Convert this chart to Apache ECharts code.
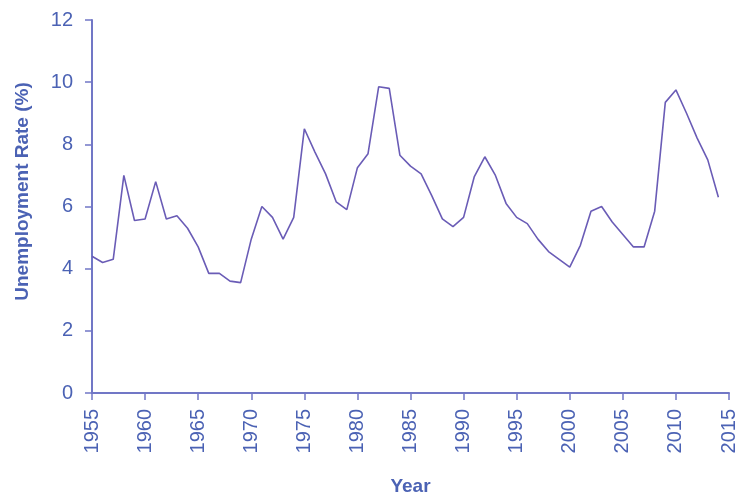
<!DOCTYPE html>
<html>
<head>
<meta charset="utf-8">
<script src="https://cdn.jsdelivr.net/npm/echarts@6/dist/echarts.min.js"></script>
<style>
  html, body { margin: 0; padding: 0; background: #fff; }
  #chart { width: 735px; height: 496px; }
</style>
</head>
<body>
<div id="chart"></div>
<script>
// annual unemployment rate
var years = [];
for (var y = 1955; y <= 2014; y++) years.push(y);
var rates = [
  4.4, 4.2, 4.3, 7.0, 5.55, 5.6, 6.8, 5.6, 5.7, 5.3,
  4.7, 3.85, 3.85, 3.6, 3.55, 4.95, 6.0, 5.65, 4.95, 5.65,
  8.5, 7.75, 7.05, 6.15, 5.9, 7.25, 7.7, 9.85, 9.8, 7.65,
  7.3, 7.05, 6.35, 5.6, 5.35, 5.65, 6.95, 7.6, 7.0, 6.1,
  5.65, 5.45, 4.95, 4.55, 4.3, 4.05, 4.75, 5.85, 6.0, 5.5,
  5.1, 4.7, 4.7, 5.85, 9.35, 9.75, 9.0, 8.2, 7.5, 6.3
];
var yTicks = [0, 2, 4, 6, 8, 10, 12];

var textColor = '#4b62b4';
var axisColor = '#7177c6';
var lineColor = '#6a5cb6';

var chart = echarts.init(document.getElementById('chart'));
var option = {
  animation: false,
  grid: { left: 92, right: 6, top: 20, bottom: 103, outerBoundsMode: 'none' },
  xAxis: {
    type: 'value',
    min: 1955, max: 2015, interval: 5,
    name: 'Year',
    nameLocation: 'middle',
    nameGap: 84,
    nameTextStyle: { color: textColor, fontSize: 19, fontWeight: 'bold', fontFamily: 'Liberation Sans' },
    axisLine: { show: true, lineStyle: { color: axisColor, width: 2 } },
    axisTick: { show: true, length: 7, lineStyle: { color: axisColor, width: 1.5 } },
    axisLabel: {
      rotate: 90, margin: 16, fontSize: 20, color: textColor,
      fontFamily: 'Liberation Sans',
      formatter: function (v) { return String(v); }
    },
    splitLine: { show: false }
  },
  yAxis: {
    type: 'value',
    min: yTicks[0], max: yTicks[yTicks.length - 1], interval: 2,
    name: 'Unemployment Rate (%)',
    nameLocation: 'middle',
    nameGap: 60,
    nameTextStyle: {
      color: textColor, fontSize: 19, fontWeight: 'bold', fontFamily: 'Liberation Sans',
      padding: [0, 0, 0, 30]
    },
    axisLine: { show: true, lineStyle: { color: axisColor, width: 2 } },
    axisTick: { show: true, length: 7, lineStyle: { color: axisColor, width: 1.5 } },
    axisLabel: { margin: 19, fontSize: 20, color: textColor, fontFamily: 'Liberation Sans' },
    splitLine: { show: false }
  },
  series: [{
    type: 'line',
    data: years.map(function (yr, i) { return [yr, rates[i]]; }),
    symbol: 'none',
    lineStyle: { color: lineColor, width: 1.6 }
  }]
};
chart.setOption(option);
</script>
</body>
</html>
